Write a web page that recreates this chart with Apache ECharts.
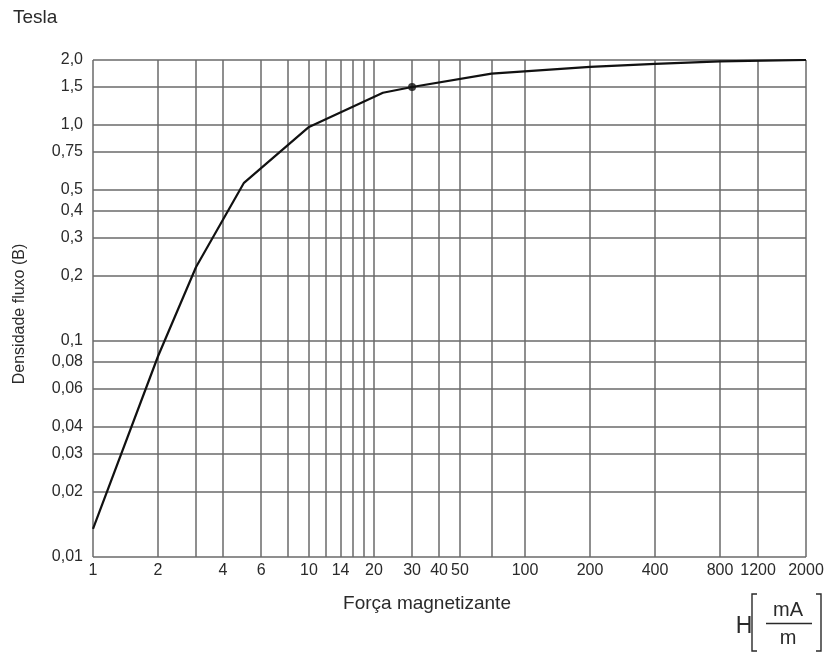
<!DOCTYPE html>
<html>
<head>
<meta charset="utf-8">
<script src="https://cdn.jsdelivr.net/npm/echarts@6/dist/echarts.min.js"></script>
<style>
  html, body { margin: 0; padding: 0; background: #fff; }
  #chart { width: 830px; height: 652px; }
</style>
</head>
<body>
<div id="chart"></div>
<script>
// Curva de magnetização B x H (escalas logarítmicas)
const forcaH = [1, 2, 3, 5, 10, 22, 30, 70, 200, 400, 800, 2000];
const densidadeB = [0.0135, 0.085, 0.22, 0.54, 0.98, 1.41, 1.5, 1.73, 1.86, 1.92, 1.97, 2.0];
const pontoDestacado = [30, 1.5];

// Linhas de grade e rótulos dos eixos
const gradeX = [1, 2, 3, 4, 6, 8, 10, 12, 14, 16, 18, 20, 30, 40, 50, 70, 100, 200, 400, 800, 1200, 2000];
const rotulosX = [1, 2, 4, 6, 10, 14, 20, 30, 40, 50, 100, 200, 400, 800, 1200, 2000];
const gradeY = [0.01, 0.02, 0.03, 0.04, 0.06, 0.08, 0.1, 0.2, 0.3, 0.4, 0.5, 0.75, 1.0, 1.5, 2.0];
const rotulosY = ['0,01', '0,02', '0,03', '0,04', '0,06', '0,08', '0,1', '0,2', '0,3', '0,4', '0,5', '0,75', '1,0', '1,5', '2,0'];

const FONTE = '"Liberation Sans", Arial, Helvetica, sans-serif';
const COR_TEXTO = '#2a2a2a';
const COR_GRADE = '#6a6a6a';

const linhasVerticais = gradeX.map(v => ({
  xAxis: v,
  label: {
    show: rotulosX.indexOf(v) >= 0,
    formatter: String(v),
    position: 'start',
    distance: 6
  }
}));
const linhasHorizontais = gradeY.map((v, i) => ({
  yAxis: v,
  label: {
    show: true,
    formatter: rotulosY[i],
    position: 'start',
    distance: 10
  }
}));

const chart = echarts.init(document.getElementById('chart'), null, { renderer: 'canvas' });
chart.setOption({
  animation: false,
  backgroundColor: '#fff',
  textStyle: { fontFamily: FONTE },
  grid: { left: 93, top: 60, width: 713, height: 497, show: false },
  xAxis: {
    type: 'log', logBase: 10, min: 1, max: 2000,
    axisLine: { show: false }, axisTick: { show: false },
    axisLabel: { show: false }, splitLine: { show: false }, minorSplitLine: { show: false }
  },
  yAxis: {
    type: 'log', logBase: 10, min: 0.01, max: 2.0,
    axisLine: { show: false }, axisTick: { show: false },
    axisLabel: { show: false }, splitLine: { show: false }, minorSplitLine: { show: false }
  },
  series: [
    {
      type: 'line',
      data: forcaH.map((h, i) => [h, densidadeB[i]]),
      symbol: 'none',
      smooth: false,
      lineStyle: { color: '#111', width: 2.2 },
      z: 5,
      markLine: {
        silent: true,
        symbol: ['none', 'none'],
        animation: false,
        lineStyle: { color: COR_GRADE, width: 1.5, type: 'solid' },
        label: { color: COR_TEXTO, fontSize: 16, fontFamily: FONTE },
        emphasis: { disabled: true },
        data: linhasVerticais.concat(linhasHorizontais)
      }
    },
    {
      type: 'scatter',
      data: [pontoDestacado],
      symbol: 'circle',
      symbolSize: 8,
      itemStyle: { color: '#111' },
      z: 6
    }
  ],
  graphic: [
    { type: 'text', left: 13, top: 8, style: { text: 'Tesla', font: '19px ' + FONTE, fill: COR_TEXTO } },
    {
      type: 'text', x: 20, y: 314, rotation: Math.PI / 2,
      style: { text: 'Densidade fluxo (B)', font: '16px ' + FONTE, fill: COR_TEXTO, align: 'center', verticalAlign: 'middle' }
    },
    { type: 'text', x: 427, y: 604, style: { text: 'Força magnetizante', font: '19px ' + FONTE, fill: COR_TEXTO, align: 'center', verticalAlign: 'middle' } },
    { type: 'text', x: 744, y: 627, style: { text: 'H', font: '23px ' + FONTE, fill: COR_TEXTO, align: 'center', verticalAlign: 'middle' } },
    { type: 'polyline', shape: { points: [[757, 594], [752, 594], [752, 651], [757, 651]] }, style: { stroke: COR_TEXTO, lineWidth: 1.4, fill: null } },
    { type: 'polyline', shape: { points: [[816, 594], [821, 594], [821, 651], [816, 651]] }, style: { stroke: COR_TEXTO, lineWidth: 1.4, fill: null } },
    { type: 'text', x: 788, y: 610, style: { text: 'mA', font: '20px ' + FONTE, fill: COR_TEXTO, align: 'center', verticalAlign: 'middle' } },
    { type: 'line', shape: { x1: 766, y1: 623.5, x2: 812, y2: 623.5 }, style: { stroke: COR_TEXTO, lineWidth: 1.3 } },
    { type: 'text', x: 788, y: 638, style: { text: 'm', font: '20px ' + FONTE, fill: COR_TEXTO, align: 'center', verticalAlign: 'middle' } }
  ]
});
</script>
</body>
</html>
